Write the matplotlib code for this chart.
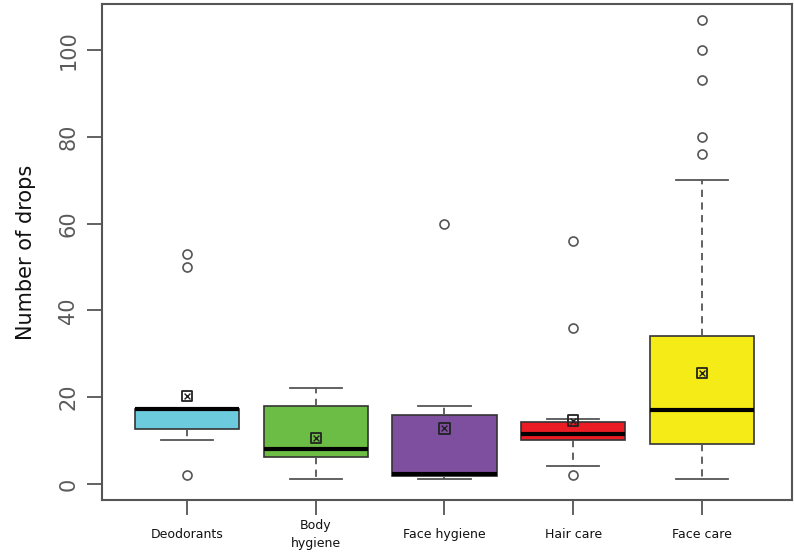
import numpy as np
import matplotlib
matplotlib.use('Agg')
import matplotlib.pyplot as plt

# Data (number of drops per product category)
categories = ['Deodorants', 'Body\nhygiene', 'Face hygiene', 'Hair care', 'Face care']
whislo = [10.1, 1.2, 1.2, 4.1, 1.2]
q1 = [12.7, 6.3, 1.9, 10.1, 9.1]
med = [17.2, 8.1, 2.2, 11.6, 17.0]
q3 = [17.3, 18.0, 15.9, 14.2, 34.1]
whishi = [17.3, 22.2, 18.0, 15.0, 70.0]
means = [20.3, 10.6, 12.8, 14.6, 25.5]
outliers = [[2, 50, 53], [], [60], [2, 36, 56], [76, 80, 93, 100, 107]]
colors = ['#6ccbdc', '#6cbd45', '#7e4f9f', '#ec1c24', '#f5eb16']

edge = '#555555'

stats = []
for i, name in enumerate(categories):
    stats.append(dict(label=name, whislo=whislo[i], q1=q1[i], med=med[i],
                      q3=q3[i], whishi=whishi[i], fliers=outliers[i], mean=means[i]))

fig = plt.figure(figsize=(7.94, 5.52), dpi=100)
ax = fig.add_axes([0.1285, 0.0942, 0.869, 0.8986])

positions = np.arange(1, len(categories) + 1)
bp = ax.bxp(stats, positions=positions, widths=0.81, patch_artist=True,
            showmeans=False, showfliers=True,
            boxprops=dict(edgecolor='#333333', linewidth=1.2),
            medianprops=dict(color='black', linewidth=3, solid_capstyle='butt'),
            whiskerprops=dict(color=edge, linewidth=1.3, linestyle=(0, (4, 3))),
            capprops=dict(color=edge, linewidth=1.3),
            flierprops=dict(marker='o', markerfacecolor='white', markeredgecolor=edge,
                            markersize=6.5, markeredgewidth=1.2))
for patch, c in zip(bp['boxes'], colors):
    patch.set_facecolor(c)
for cap in bp['caps']:
    x0, x1 = cap.get_xdata()
    xc = (x0 + x1) / 2
    cap.set_xdata([xc - 0.2025, xc + 0.2025])

# mean markers: square with a cross
ax.scatter(positions, means, marker='s', s=55, facecolors='none', edgecolors='#222222',
           linewidths=1.3, zorder=5)
ax.scatter(positions, means, marker='x', s=18, color='#222222', linewidths=1.0, zorder=5)

ax.set_xlim(0.34, 5.70)
ax.set_ylim(-3.7, 110.6)

ax.set_yticks([0, 20, 40, 60, 80, 100])
ax.set_yticklabels(['0', '20', '40', '60', '80', '100'], rotation=90, va='center',
                   fontsize=15, color='#5a5a5a')
ax.tick_params(axis='y', length=11, width=1.3, color=edge, pad=6)

ax.set_xticks(positions)
ax.set_xticklabels(categories, fontsize=9, va='center', color='#111111', linespacing=1.5)
ax.tick_params(axis='x', length=11, width=1.3, color=edge, pad=14)

ax.set_ylabel('Number of drops', fontsize=15, color='#111111', labelpad=16)

for s in ax.spines.values():
    s.set_color(edge)
    s.set_linewidth(1.5)

fig.savefig('out.png', dpi=100)
